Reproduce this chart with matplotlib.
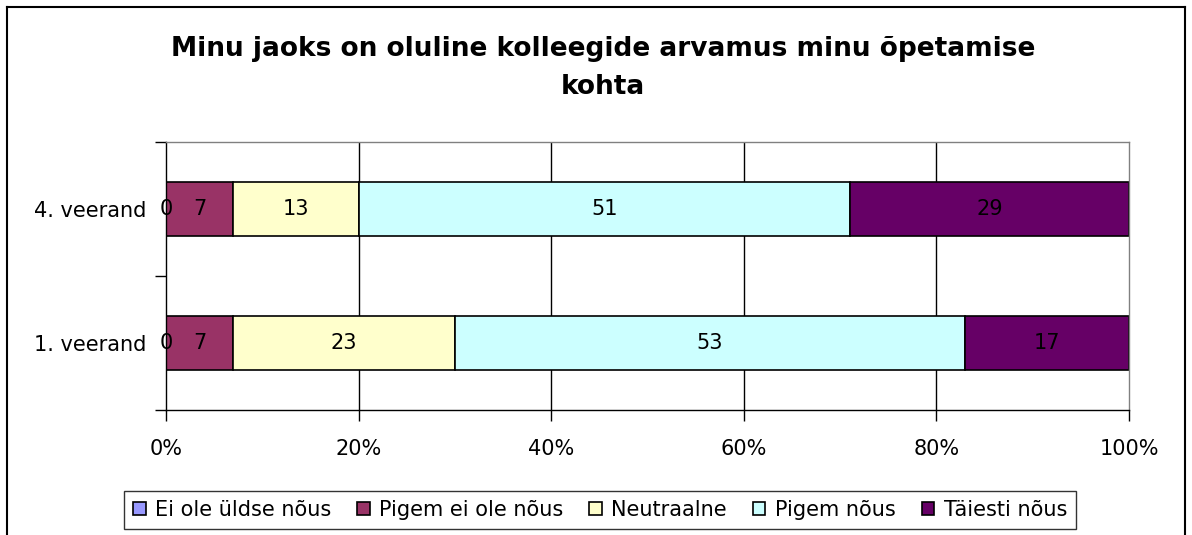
import matplotlib
matplotlib.use("Agg")
import matplotlib.pyplot as plt
from matplotlib.patches import Patch
from matplotlib.lines import Line2D

plt.rcParams['font.family'] = ['DejaVu Sans']

categories = ["1. veerand", "4. veerand"]
series_names = ["Ei ole üldse nõus", "Pigem ei ole nõus", "Neutraalne", "Pigem nõus", "Täiesti nõus"]
ei_ole_yldse = [0, 0]
pigem_ei_ole = [7, 7]
neutraalne = [23, 13]
pigem_nous = [53, 51]
taiesti_nous = [17, 29]
series_values = [ei_ole_yldse, pigem_ei_ole, neutraalne, pigem_nous, taiesti_nous]
colors = ["#9999FF", "#993366", "#FFFFCC", "#CCFFFF", "#660066"]
xticks = [0, 20, 40, 60, 80, 100]
xtick_labels = ["0%", "20%", "40%", "60%", "80%", "100%"]
title_lines = ["Minu jaoks on oluline kolleegide arvamus minu õpetamise", "kohta"]

W, H = 1192, 535
fig = plt.figure(figsize=(W / 100, H / 100), dpi=100)
fig.patch.set_facecolor("white")

fx = lambda px: px / W
fy = lambda py: 1 - py / H

# outer frame
fig.add_artist(Line2D([fx(7), fx(7)], [fy(7), 0], color="black", lw=1.5, transform=fig.transFigure))
fig.add_artist(Line2D([fx(7), fx(1185)], [fy(7), fy(7)], color="black", lw=1.5, transform=fig.transFigure))
fig.add_artist(Line2D([fx(1185), fx(1185)], [fy(7), 0], color="black", lw=1.5, transform=fig.transFigure))

ax = fig.add_axes([fx(166), fy(410), (1129 - 166) / W, (410 - 142) / H])
ax.set_xlim(0, 100)
ax.set_ylim(-0.5, 1.5)

for xv in xticks[1:-1]:
    ax.axvline(xv, color="black", lw=1, zorder=0)

ypos = list(range(len(categories)))
left = [0] * len(categories)
for name, vals, col in zip(series_names, series_values, colors):
    ax.barh(ypos, vals, left=left, height=0.41, color=col, edgecolor="black", lw=1.2, label=name, zorder=2)
    for i, v in enumerate(vals):
        ax.text(left[i] + v / 2, ypos[i], f"{v}", ha="center", va="center", fontsize=15, color="black", zorder=3)
    left = [l + v for l, v in zip(left, vals)]

ax.set_yticks(ypos)
ax.set_yticklabels(categories, fontsize=15)
ax.set_yticks([-0.5, 0.5, 1.5], minor=True)
ax.tick_params(axis="y", which="major", length=0, pad=14)
ax.tick_params(axis="y", which="minor", length=8, width=1, direction="out")
ax.set_xticks(xticks)
ax.set_xticklabels(xtick_labels, fontsize=15)
ax.tick_params(axis="x", length=8, width=1, direction="out", pad=13)

ax.spines["left"].set_color("black")
ax.spines["bottom"].set_color("black")
ax.spines["top"].set_color("#808080")
ax.spines["right"].set_color("#808080")
for s in ax.spines.values():
    s.set_linewidth(1)

fig.text(fx(603), fy(56), title_lines[0], ha="center", va="baseline", fontsize=19, fontweight="bold")
fig.text(fx(603), fy(94), title_lines[1], ha="center", va="baseline", fontsize=19, fontweight="bold")

handles = [Patch(facecolor=c, edgecolor="black", lw=1.2) for c in colors]
leg = fig.legend(handles, series_names, loc="center", bbox_to_anchor=(fx(600), fy(510)), ncol=5,
                 fontsize=15, frameon=True, fancybox=False, edgecolor="black", handlelength=0.6,
                 handleheight=0.6, handletextpad=0.45, columnspacing=1.25, borderpad=0.45,
                 borderaxespad=0)
leg.get_frame().set_linewidth(1)

fig.savefig("out.png", dpi=100, facecolor="white")
